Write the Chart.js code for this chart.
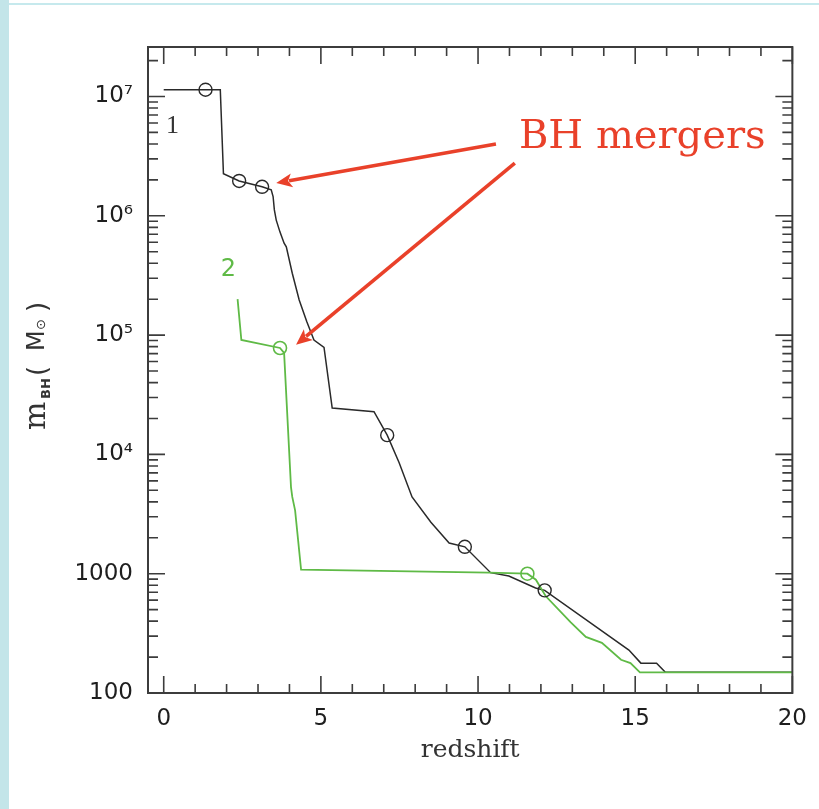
<!DOCTYPE html>
<html>
<head>
<meta charset="utf-8">
<script src="https://cdn.jsdelivr.net/npm/chart.js@4.4.1/dist/chart.umd.min.js"></script>
<style>
  html, body { margin: 0; padding: 0; background: #ffffff; }
  #wrap { position: relative; width: 819px; height: 809px; overflow: hidden; }
  #band { position: absolute; left: 0; top: 0; width: 9px; height: 809px; background: #c3e5e9; }
  #topline { position: absolute; left: 9px; top: 3px; width: 810px; height: 2px; background: #c6e9ed; }
  canvas { position: absolute; left: 0; top: 0; }
</style>
</head>
<body>
<div id="wrap">
  <div id="band"></div>
  <div id="topline"></div>
  <canvas id="c" width="819" height="809"></canvas>
</div>
<script>
// ---------------- DATA ----------------
// Halo 1 (black) : redshift vs black-hole mass (solar masses)
const blackZ = [0, 1.33, 1.80, 1.90, 2.40, 3.13, 3.42, 3.48, 3.52, 3.58, 3.70, 3.83, 3.90, 4.09, 4.31, 4.55, 4.78, 5.10, 5.36, 6.69, 7.11, 7.49, 7.90, 8.50, 9.08, 9.58, 10.40, 10.98, 11.83, 12.12, 14.80, 15.18, 15.68, 15.96, 20];
const blackM = [1.14e7, 1.14e7, 1.14e7, 2.25e6, 1.96e6, 1.75e6, 1.65e6, 1.45e6, 1.12e6, 9.2e5, 7.3e5, 5.9e5, 5.5e5, 3.3e5, 1.97e5, 1.3e5, 9.1e4, 7.9e4, 2.45e4, 2.28e4, 1.45e4, 8.5e3, 4.4e3, 2.7e3, 1.81e3, 1.68e3, 1.02e3, 955, 760, 725, 229, 178, 178, 149, 149];
// Halo 2 (green)
const greenZ = [2.35, 2.47, 3.70, 3.83, 4.05, 4.09, 4.18, 4.37, 10.35, 11.57, 11.84, 12.15, 12.95, 13.43, 13.94, 14.55, 14.85, 15.15, 20];
const greenM = [2.0e5, 9.1e4, 7.8e4, 7.1e4, 5.3e3, 4.4e3, 3.4e3, 1.08e3, 1.02e3, 1.0e3, 890, 650, 390, 295, 263, 190, 178, 149, 149];
// BH merger events (circles)
const mergerBlackZ = [1.33, 2.40, 3.13, 7.11, 9.58, 12.12];
const mergerBlackM = [1.14e7, 1.96e6, 1.75e6, 1.45e4, 1.68e3, 725];
const mergerGreenZ = [3.70, 11.57];
const mergerGreenM = [7.8e4, 1.0e3];
// Axis ticks
const xTickValues = [0, 5, 10, 15, 20];
const yMajorTicks = [100, 1000, 1e4, 1e5, 1e6, 1e7];
const yTickLabels = ['100', '1000', '10\u2074', '10\u2075', '10\u2076', '10\u2077'];
// Text labels
const annotationText = 'BH mergers';
const seriesLabels = ['1', '2'];
const xTitle = 'redshift';

// ---------------- helpers ----------------
const pts = (xs, ys) => xs.map((x, i) => ({ x: x, y: ys[i] }));
const BLACK = '#2a2a2a';
const GREEN = '#5fba46';
const RED = '#e9412a';
const AXIS = '#3c3c3c';

// minor ticks for log axis
const yAllTicks = [];
yMajorTicks.forEach(d => { for (let k = 1; k <= 9; k++) { const v = d * k; if (v <= 2.6e7) yAllTicks.push(v); } });

// annotation anchors (data coordinates)
const arrowDefs = [
  { from: { x: 10.57, y: 4.0e6 }, to: { x: 3.58, y: 1.88e6 } },
  { from: { x: 11.17, y: 2.77e6 }, to: { x: 4.21, y: 8.3e4 } }
];
const textAnchor = { x: 11.3, y: 3.72e6 };
const label1Anchor = { x: 0.28, y: 4.97e6 };
const label2Anchor = { x: 2.06, y: 3.14e5 };

function drawArrow(ctx, x1, y1, x2, y2) {
  const ang = Math.atan2(y2 - y1, x2 - x1);
  const hl = 16, hw = 7;
  const bx = x2 - hl * Math.cos(ang), by = y2 - hl * Math.sin(ang);
  ctx.save();
  ctx.strokeStyle = RED; ctx.fillStyle = RED; ctx.lineWidth = 3.6; ctx.lineCap = 'butt';
  ctx.beginPath(); ctx.moveTo(x1, y1); ctx.lineTo(bx + 3 * Math.cos(ang), by + 3 * Math.sin(ang)); ctx.stroke();
  ctx.beginPath();
  ctx.moveTo(x2, y2);
  ctx.lineTo(bx + hw * Math.sin(ang), by - hw * Math.cos(ang));
  ctx.lineTo(bx + 4 * Math.cos(ang), by + 4 * Math.sin(ang));
  ctx.lineTo(bx - hw * Math.sin(ang), by + hw * Math.cos(ang));
  ctx.closePath(); ctx.fill();
  ctx.restore();
}

const decorPlugin = {
  id: 'decor',
  afterDatasetsDraw(chart) {
    const { ctx, chartArea: a, scales: { x, y } } = chart;
    ctx.save();
    // frame
    ctx.strokeStyle = AXIS; ctx.lineWidth = 2;
    ctx.strokeRect(a.left, a.top, a.right - a.left, a.bottom - a.top);
    // x ticks (inward, bottom and top)
    ctx.lineWidth = 1.6;
    ctx.beginPath();
    for (let v = 0; v <= 20; v++) {
      const px = x.getPixelForValue(v);
      const len = (v % 5 === 0) ? 17 : 9;
      ctx.moveTo(px, a.bottom); ctx.lineTo(px, a.bottom - len);
      ctx.moveTo(px, a.top); ctx.lineTo(px, a.top + len);
    }
    // y ticks (inward, left and right)
    yAllTicks.forEach(v => {
      const py = y.getPixelForValue(v);
      const major = yMajorTicks.includes(v);
      const len = major ? 17 : 10;
      ctx.moveTo(a.left, py); ctx.lineTo(a.left + len, py);
      ctx.moveTo(a.right, py); ctx.lineTo(a.right - len, py);
    });
    ctx.stroke();

    // arrows
    arrowDefs.forEach(d => drawArrow(ctx,
      x.getPixelForValue(d.from.x), y.getPixelForValue(d.from.y),
      x.getPixelForValue(d.to.x), y.getPixelForValue(d.to.y)));

    // BH mergers text
    ctx.fillStyle = RED;
    ctx.font = '40px "DejaVu Serif"';
    ctx.textAlign = 'left'; ctx.textBaseline = 'alphabetic';
    ctx.fillText(annotationText, x.getPixelForValue(textAnchor.x), y.getPixelForValue(textAnchor.y));

    // series labels
    ctx.textAlign = 'center';
    ctx.fillStyle = '#333333';
    ctx.font = '26px "Liberation Serif"';
    ctx.fillText(seriesLabels[0], x.getPixelForValue(label1Anchor.x), y.getPixelForValue(label1Anchor.y));
    ctx.fillStyle = GREEN;
    ctx.font = '24px "DejaVu Sans"';
    ctx.fillText(seriesLabels[1], x.getPixelForValue(label2Anchor.x), y.getPixelForValue(label2Anchor.y));

    // y-axis title: m_BH (M⊙), rotated
    const cy = (a.top + a.bottom) / 2;
    ctx.translate(0, cy);
    ctx.rotate(-Math.PI / 2);
    ctx.fillStyle = '#333333';
    ctx.textAlign = 'left'; ctx.textBaseline = 'alphabetic';
    ctx.font = '30px "DejaVu Serif"';
    ctx.fillText('m', -60, 45);
    ctx.font = 'bold 13px "DejaVu Sans"';
    ctx.fillText('BH', -29, 50);
    ctx.font = '26px "DejaVu Sans"';
    ctx.fillText('(', -6, 46);
    ctx.font = '24px "DejaVu Sans"';
    ctx.fillText('M', 19, 44);
    ctx.font = '13px "DejaVu Sans"';
    ctx.fillText('\u2299', 40, 45);
    ctx.font = '26px "DejaVu Sans"';
    ctx.fillText(')', 58, 46);
    ctx.restore();
  }
};

const chart = new Chart(document.getElementById('c'), {
  type: 'line',
  data: {
    datasets: [
      { label: 'halo 1', data: pts(blackZ, blackM), borderColor: BLACK, borderWidth: 1.5, pointRadius: 0, tension: 0, fill: false, order: 3 },
      { label: 'halo 2', data: pts(greenZ, greenM), borderColor: GREEN, borderWidth: 1.8, pointRadius: 0, tension: 0, fill: false, order: 2 },
      { label: 'mergers 1', data: pts(mergerBlackZ, mergerBlackM), showLine: false, pointRadius: 6.5, pointStyle: 'circle', pointBorderColor: BLACK, pointBackgroundColor: 'rgba(0,0,0,0)', pointBorderWidth: 1.4, order: 1 },
      { label: 'mergers 2', data: pts(mergerGreenZ, mergerGreenM), showLine: false, pointRadius: 6.5, pointStyle: 'circle', pointBorderColor: GREEN, pointBackgroundColor: 'rgba(0,0,0,0)', pointBorderWidth: 1.6, order: 0 }
    ]
  },
  options: {
    responsive: false,
    animation: false,
    devicePixelRatio: 1,
    layout: { padding: { top: 47, right: 24, left: 0, bottom: 0 } },
    plugins: { legend: { display: false }, tooltip: { enabled: false } },
    scales: {
      x: {
        type: 'linear', min: -0.5, max: 20,
        grid: { display: false, drawTicks: false },
        border: { display: false },
        afterBuildTicks: s => { s.ticks = xTickValues.map(v => ({ value: v })); },
        afterFit: s => { s.height = 116; },
        ticks: { color: '#1e1e1e', font: { family: 'DejaVu Sans', size: 23 }, padding: 12, maxRotation: 0, autoSkip: false },
        title: { display: true, text: xTitle, color: '#333', font: { family: 'DejaVu Serif', size: 25 }, padding: { top: 0, bottom: 44 } }
      },
      y: {
        type: 'logarithmic', min: 100, max: 2.6e7,
        grid: { display: false, drawTicks: false },
        border: { display: false },
        afterBuildTicks: s => { s.ticks = yAllTicks.map(v => ({ value: v })); },
        afterFit: s => { s.width = 148; },
        ticks: {
          color: '#1e1e1e', font: { family: 'DejaVu Sans', size: 23 }, padding: 15, autoSkip: false,
          callback: v => { const i = yMajorTicks.indexOf(v); return i >= 0 ? yTickLabels[i] : ''; }
        }
      }
    }
  },
  plugins: [decorPlugin]
});
</script>
</body>
</html>
